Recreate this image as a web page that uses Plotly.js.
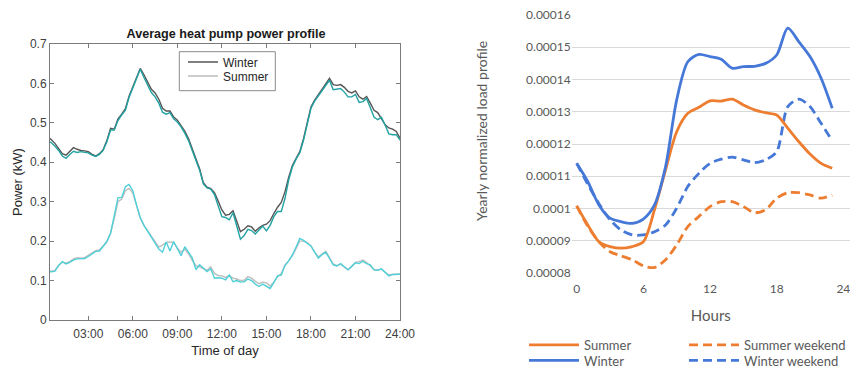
<!DOCTYPE html>
<html>
<head>
<meta charset="utf-8">
<script src="https://cdn.plot.ly/plotly-3.0.1.min.js"></script>
<style>
  html, body { margin: 0; padding: 0; background: #ffffff; }
  #chart { width: 850px; height: 368px; }
</style>
</head>
<body>
<div id="chart"></div>
<script>
// ---- Left panel: average heat pump power (kW), 15-minute steps, 00:15 .. 24:00 ----
var timeOfDay = [];
for (var i = 1; i <= 96; i++) { timeOfDay.push(i * 0.25); }

var winterPower = [
  0.465, 0.458, 0.448, 0.436,  0.422, 0.418, 0.428, 0.437,
  0.433, 0.430, 0.429, 0.427,  0.420, 0.416, 0.422, 0.432,
  0.455, 0.486, 0.484, 0.510,  0.522, 0.536, 0.568, 0.592,
  0.612, 0.638, 0.622, 0.604,  0.585, 0.576, 0.560, 0.537,
  0.530, 0.530, 0.515, 0.507,  0.494, 0.479, 0.460, 0.434,
  0.410, 0.384, 0.348, 0.337,  0.333, 0.323, 0.302, 0.279,
  0.266, 0.268, 0.277, 0.250,  0.224, 0.230, 0.239, 0.236,
  0.225, 0.234, 0.240, 0.243,  0.252, 0.270, 0.286, 0.298,
  0.325, 0.362, 0.392, 0.410,  0.427, 0.460, 0.500, 0.540,
  0.558, 0.571, 0.585, 0.600,  0.613, 0.597, 0.595, 0.597,
  0.590, 0.580, 0.576, 0.581,  0.566, 0.560, 0.567, 0.550,
  0.532, 0.526, 0.510, 0.495,  0.487, 0.484, 0.478, 0.461
];
var winterPowerTeal = [
  0.455, 0.450, 0.441, 0.430,  0.416, 0.410, 0.420, 0.428,
  0.425, 0.427, 0.425, 0.424,  0.418, 0.415, 0.420, 0.430,
  0.452, 0.482, 0.482, 0.506,  0.520, 0.532, 0.565, 0.590,
  0.610, 0.636, 0.615, 0.597,  0.577, 0.566, 0.550, 0.527,
  0.522, 0.526, 0.510, 0.502,  0.490, 0.474, 0.455, 0.430,
  0.406, 0.380, 0.345, 0.335,  0.332, 0.318, 0.290, 0.262,
  0.260, 0.254, 0.272, 0.238,  0.205, 0.214, 0.230, 0.227,
  0.218, 0.228, 0.238, 0.226,  0.240, 0.262, 0.275, 0.275,
  0.308, 0.355, 0.388, 0.408,  0.424, 0.456, 0.497, 0.537,
  0.555, 0.568, 0.582, 0.597,  0.608, 0.584, 0.586, 0.587,
  0.578, 0.566, 0.566, 0.572,  0.552, 0.554, 0.562, 0.540,
  0.515, 0.508, 0.514, 0.494,  0.472, 0.470, 0.470, 0.456
];
var summerPower = [
  0.125, 0.123, 0.126, 0.139,  0.147, 0.144, 0.148, 0.155,
  0.158, 0.157, 0.158, 0.164,  0.170, 0.176, 0.178, 0.187,
  0.199, 0.220, 0.258, 0.300,  0.307, 0.328, 0.334, 0.322,
  0.290, 0.258, 0.240, 0.226,  0.212, 0.198, 0.185, 0.190,
  0.197, 0.198, 0.196, 0.182,  0.172, 0.180, 0.168, 0.152,
  0.138, 0.135, 0.130, 0.126,  0.135, 0.118, 0.113, 0.112,
  0.108, 0.112, 0.106, 0.104,  0.100, 0.101, 0.110, 0.106,
  0.098, 0.092, 0.096, 0.094,  0.086, 0.096, 0.110, 0.118,
  0.140, 0.150, 0.163, 0.182,  0.200, 0.200, 0.196, 0.188,
  0.172, 0.160, 0.168, 0.174,  0.158, 0.142, 0.138, 0.142,
  0.134, 0.128, 0.136, 0.146,  0.148, 0.152, 0.146, 0.138,
  0.128, 0.127, 0.129, 0.121,  0.114, 0.116, 0.117, 0.117
];
var summerPowerTeal = [
  0.125, 0.122, 0.124, 0.138,  0.148, 0.142, 0.146, 0.152,
  0.155, 0.155, 0.156, 0.161,  0.168, 0.174, 0.175, 0.186,
  0.199, 0.220, 0.262, 0.310,  0.311, 0.338, 0.344, 0.328,
  0.292, 0.260, 0.240, 0.226,  0.210, 0.195, 0.180, 0.172,
  0.198, 0.175, 0.199, 0.182,  0.163, 0.186, 0.172, 0.158,
  0.128, 0.140, 0.132, 0.123,  0.130, 0.106, 0.107, 0.106,
  0.102, 0.114, 0.097, 0.100,  0.096, 0.097, 0.104, 0.100,
  0.091, 0.085, 0.091, 0.086,  0.080, 0.095, 0.112, 0.114,
  0.138, 0.150, 0.165, 0.185,  0.207, 0.202, 0.196, 0.188,
  0.172, 0.157, 0.166, 0.172,  0.156, 0.140, 0.137, 0.143,
  0.135, 0.127, 0.136, 0.145,  0.143, 0.149, 0.143, 0.140,
  0.127, 0.126, 0.130, 0.122,  0.112, 0.115, 0.116, 0.116
];
var timeTickVals = [3, 6, 9, 12, 15, 18, 21, 24];
var timeTickText = ['03:00', '06:00', '09:00', '12:00', '15:00', '18:00', '21:00', '24:00'];

// ---- Right panel: yearly normalized load profile, hourly ----
var hours = [0, 1, 2, 3, 4, 5, 6, 7, 8, 9, 10, 11, 12, 13, 14, 15, 16, 17, 18, 19, 20, 21, 22, 23];
var summerLoad = [
  0.0001008, 0.0000949, 0.0000897, 0.0000882, 0.0000877, 0.0000882, 0.0000897, 0.0000996,
  0.0001120, 0.0001238, 0.0001295, 0.0001314, 0.0001334, 0.0001333, 0.0001339, 0.0001321,
  0.0001306, 0.0001297, 0.0001290, 0.0001249, 0.0001207, 0.0001169, 0.0001140, 0.0001125
];
var winterLoad = [
  0.0001140, 0.0001083, 0.0001011, 0.0000970, 0.0000959, 0.0000954, 0.0000967, 0.0001011,
  0.0001130, 0.0001337, 0.0001455, 0.0001478, 0.0001471, 0.0001463, 0.0001435, 0.0001440,
  0.0001441, 0.0001450, 0.0001476, 0.0001559, 0.0001517, 0.0001471, 0.0001404, 0.0001311
];
var summerWeekendLoad = [
  0.0001008, 0.0000945, 0.0000897, 0.0000866, 0.0000853, 0.0000841, 0.0000822, 0.0000817,
  0.0000841, 0.0000887, 0.0000944, 0.0000975, 0.0001006, 0.0001021, 0.0001021, 0.0001006,
  0.0000987, 0.0000996, 0.0001032, 0.0001049, 0.0001049, 0.0001042, 0.0001032, 0.0001042
];
var winterWeekendLoad = [
  0.0001140, 0.0001075, 0.0001015, 0.0000965, 0.0000933, 0.0000918, 0.0000918, 0.0000928,
  0.0000949, 0.0001001, 0.0001068, 0.0001109, 0.0001140, 0.0001153, 0.0001159, 0.0001151,
  0.0001142, 0.0001151, 0.0001176, 0.0001316, 0.0001339, 0.0001316, 0.0001264, 0.0001210
];
var hourTickVals = [0, 6, 12, 18, 24];
var loadTickVals = [0.00008, 0.00009, 0.0001, 0.00011, 0.00012, 0.00013, 0.00014, 0.00015, 0.00016];
var loadTickText = ['0.00008', '0.00009', '0.0001', '0.00011', '0.00012', '0.00013', '0.00014', '0.00015', '0.00016'];

var ORANGE = '#ed7d31';
var BLUE = '#4678d8';
var LEFT_FONT = 'Liberation Sans, Arial, sans-serif';
var RIGHT_FONT = 'Lato, Open Sans, sans-serif';

var traces = [
  { x: timeOfDay, y: winterPower, type: 'scatter', mode: 'lines', name: 'Winter',
    line: { color: '#555555', width: 1.4 }, xaxis: 'x', yaxis: 'y', legend: 'legend' },
  { x: timeOfDay, y: summerPower, type: 'scatter', mode: 'lines', name: 'Summer',
    line: { color: '#bdbdbd', width: 1.4 }, xaxis: 'x', yaxis: 'y', legend: 'legend2' },
  { x: timeOfDay, y: winterPowerTeal, type: 'scatter', mode: 'lines', name: 'Winter (model)',
    line: { color: '#22a2a2', width: 1.4 }, xaxis: 'x', yaxis: 'y', showlegend: false },
  { x: timeOfDay, y: summerPowerTeal, type: 'scatter', mode: 'lines', name: 'Summer (model)',
    line: { color: '#4fd0d8', width: 1.4 }, xaxis: 'x', yaxis: 'y', showlegend: false },

  { x: hours, y: summerWeekendLoad, type: 'scatter', mode: 'lines', name: 'Summer weekend',
    line: { color: ORANGE, width: 2.8, dash: '9px,5px', shape: 'spline', smoothing: 0.8 },
    xaxis: 'x2', yaxis: 'y2', legend: 'legend5' },
  { x: hours, y: winterWeekendLoad, type: 'scatter', mode: 'lines', name: 'Winter weekend',
    line: { color: BLUE, width: 2.8, dash: '9px,5px', shape: 'spline', smoothing: 0.8 },
    xaxis: 'x2', yaxis: 'y2', legend: 'legend6' },
  { x: hours, y: summerLoad, type: 'scatter', mode: 'lines', name: 'Summer',
    line: { color: ORANGE, width: 2.8, shape: 'spline', smoothing: 0.8 },
    xaxis: 'x2', yaxis: 'y2', legend: 'legend3' },
  { x: hours, y: winterLoad, type: 'scatter', mode: 'lines', name: 'Winter',
    line: { color: BLUE, width: 2.8, shape: 'spline', smoothing: 0.8 },
    xaxis: 'x2', yaxis: 'y2', legend: 'legend4' }
];

function px(v) { return v / 850; }
function py(v) { return 1 - v / 368; }

function smallLegend(x, y, font, itemWidth) {
  return { x: x, y: y, xanchor: 'left', yanchor: 'middle', bgcolor: 'rgba(0,0,0,0)',
           borderwidth: 0, font: font, itemwidth: itemWidth, tracegroupgap: 0 };
}

var leftLegendFont = { family: LEFT_FONT, size: 12, color: '#262626' };
var rightLegendFont = { family: RIGHT_FONT, size: 13, color: '#595959' };

var layout = {
  width: 850, height: 368, autosize: false,
  margin: { l: 0, r: 0, t: 0, b: 0, pad: 0, autoexpand: false },
  paper_bgcolor: '#ffffff', plot_bgcolor: '#ffffff',
  showlegend: true,
  title: {
    text: 'Average heat pump power profile',
    x: px(226), y: py(34), xanchor: 'center', yanchor: 'middle', xref: 'paper', yref: 'paper',
    font: { family: LEFT_FONT, size: 12.6, weight: 'bold', color: '#1a1a1a' }
  },
  xaxis: {
    domain: [px(50), px(400)], range: [0.42, 24], anchor: 'y',
    tickvals: timeTickVals, ticktext: timeTickText,
    ticks: 'inside', ticklen: 4, tickcolor: '#7a7a7a', tickwidth: 1,
    showline: true, linecolor: '#7a7a7a', linewidth: 1, mirror: 'ticks',
    showgrid: false, zeroline: false, ticklabelstandoff: 3,
    tickfont: { family: LEFT_FONT, size: 12, color: '#404040' },
    title: { text: 'Time of day', font: { family: LEFT_FONT, size: 13, color: '#262626' }, standoff: 5 }
  },
  yaxis: {
    domain: [py(320), py(44)], range: [0, 0.7], anchor: 'x',
    tick0: 0, dtick: 0.1,
    ticks: 'inside', ticklen: 4, tickcolor: '#7a7a7a', tickwidth: 1,
    showline: true, linecolor: '#7a7a7a', linewidth: 1, mirror: 'ticks',
    showgrid: false, zeroline: false,
    tickfont: { family: LEFT_FONT, size: 12, color: '#404040' },
    title: { text: 'Power (kW)', font: { family: LEFT_FONT, size: 13, color: '#262626' }, standoff: 4 }
  },
  xaxis2: {
    domain: [px(571.7), 1], range: [-0.45, 24.6], anchor: 'y2',
    tickvals: hourTickVals, ticks: '', showline: false, showgrid: false, zeroline: false,
    ticklabeloverflow: 'allow', ticklabelstandoff: 7,
    tickfont: { family: RIGHT_FONT, size: 12, color: '#595959' },
    title: { text: 'Hours', font: { family: RIGHT_FONT, size: 15, color: '#595959' }, standoff: 15 }
  },
  yaxis2: {
    domain: [py(273), py(15)], range: [0.00008, 0.00016], anchor: 'x2',
    tickvals: loadTickVals, ticktext: loadTickText,
    ticks: '', showline: false, showgrid: true, gridcolor: '#d9d9d9', gridwidth: 1, zeroline: false,
    tickfont: { family: RIGHT_FONT, size: 12, color: '#595959' }
  },
  annotations: [{
    text: 'Yearly normalized load profile', textangle: -90,
    x: px(481), y: py(131), xref: 'paper', yref: 'paper', xanchor: 'center', yanchor: 'middle',
    showarrow: false, font: { family: RIGHT_FONT, size: 14, color: '#595959' }
  }],
  shapes: [{
    type: 'rect', xref: 'paper', yref: 'paper',
    x0: px(179.3), x1: px(275.3), y0: py(90.7), y1: py(51.7),
    line: { color: '#8a8a8a', width: 1 }, fillcolor: 'rgba(255,255,255,0)', layer: 'above'
  }],
  legend: smallLegend(px(183), py(62), leftLegendFont, 30),
  legend2: smallLegend(px(183), py(76), leftLegendFont, 30),
  legend3: smallLegend(px(524), py(345), rightLegendFont, 50),
  legend4: smallLegend(px(524), py(360.5), rightLegendFont, 50),
  legend5: smallLegend(px(684), py(345), rightLegendFont, 50),
  legend6: smallLegend(px(684), py(360.5), rightLegendFont, 50)
};

Plotly.newPlot('chart', traces, layout, { staticPlot: true, displayModeBar: false });
</script>
</body>
</html>
